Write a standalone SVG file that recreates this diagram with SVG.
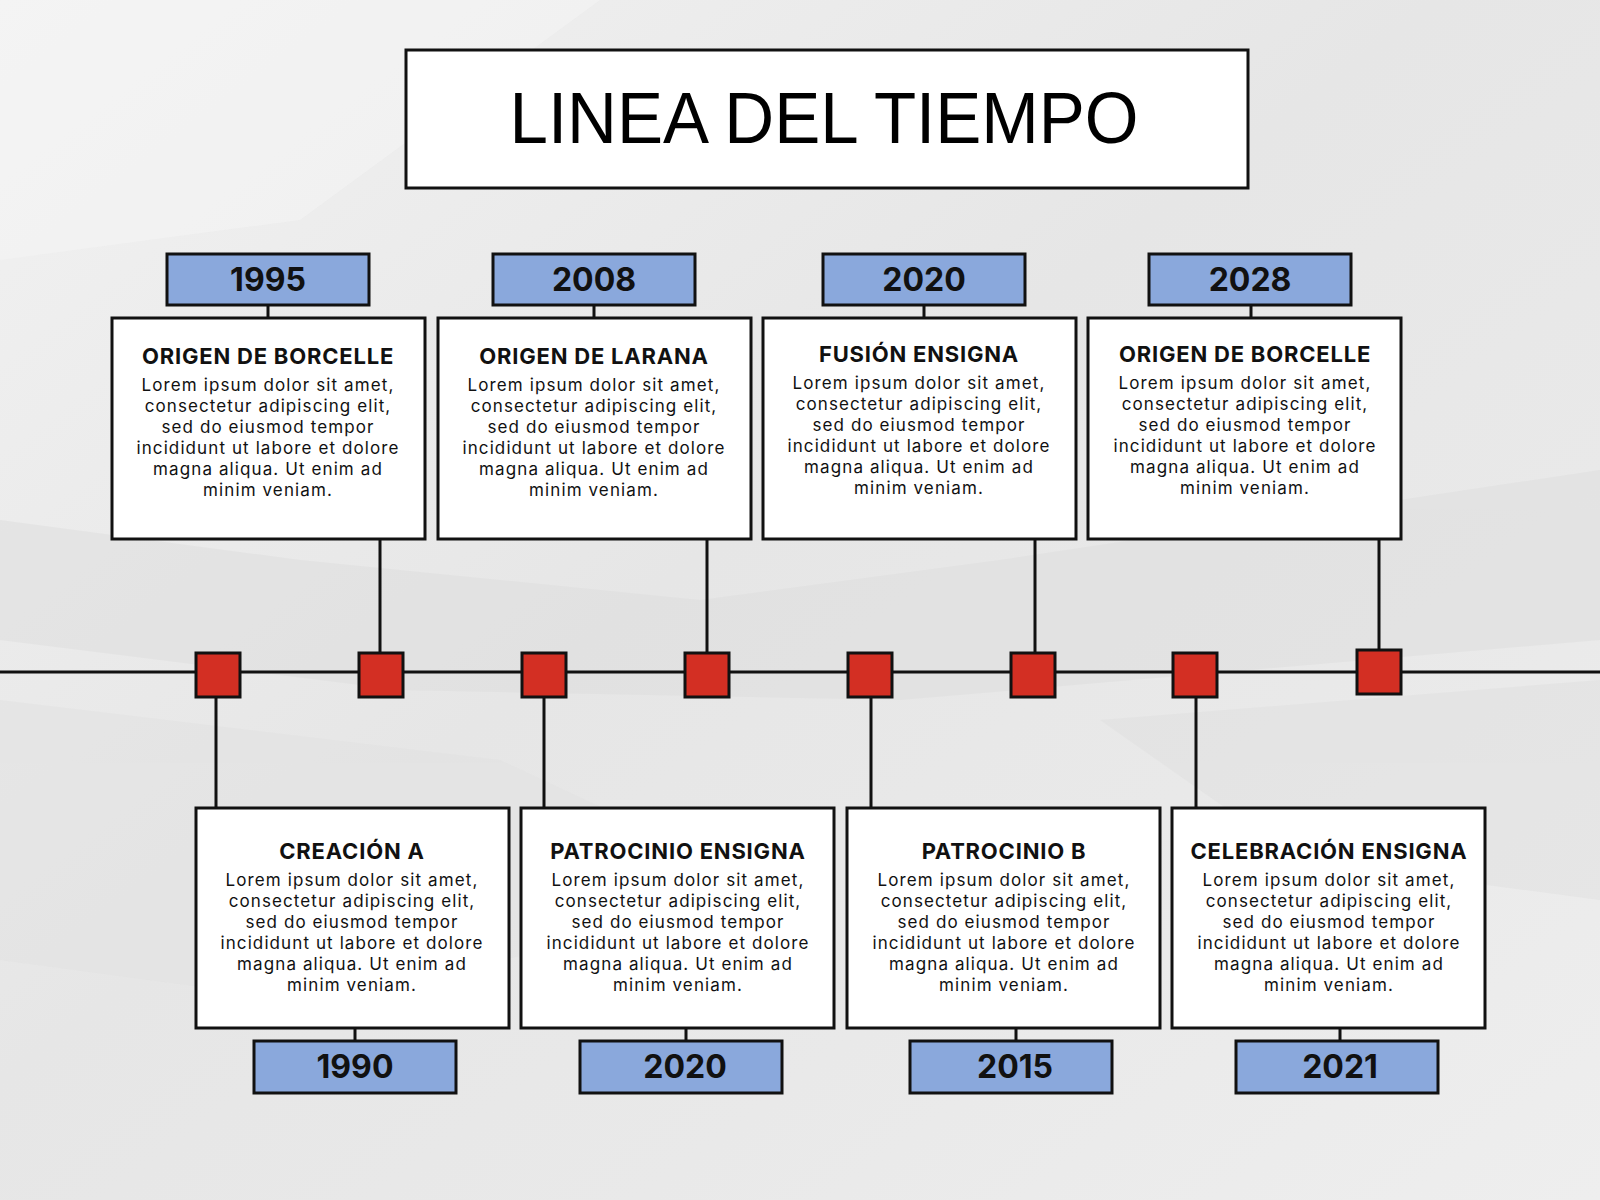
<svg xmlns="http://www.w3.org/2000/svg" width="1600" height="1200" viewBox="0 0 1600 1200">
<defs>
<linearGradient id="bg" x1="0" y1="0" x2="1" y2="1">
<stop offset="0" stop-color="#f2f2f2"/>
<stop offset="0.45" stop-color="#e6e6e6"/>
<stop offset="0.7" stop-color="#e9e9e9"/>
<stop offset="1" stop-color="#eeeeee"/>
</linearGradient>
<style>
.card{fill:#ffffff;stroke:#111111;stroke-width:3}
.year{fill:#8aa8dc;stroke:#111111;stroke-width:3}
.sq{fill:#d32f23;stroke:#111111;stroke-width:3}
.ln{stroke:#111111;stroke-width:3;fill:none}
.yt{font-family:Inter,"Liberation Sans",sans-serif;font-weight:bold;font-size:32px;fill:#111111;text-anchor:middle}
.ct{font-family:Inter,"Liberation Sans",sans-serif;font-weight:bold;font-size:22px;letter-spacing:0.8px;fill:#111111;text-anchor:middle}
.cb{font-family:Inter,"Liberation Sans",sans-serif;font-size:17px;letter-spacing:1.1px;fill:#111111;text-anchor:middle}
</style>
</defs>
<rect x="0" y="0" width="1600" height="1200" fill="url(#bg)"/>
<g opacity="0.5">
<polygon points="0,520 300,560 700,600 1000,560 1600,470 1600,640 900,700 400,690 0,640" fill="#dedede"/>
<polygon points="0,700 500,760 800,900 300,1000 0,960" fill="#e2e2e2"/>
<polygon points="1100,720 1600,680 1600,900 1300,860" fill="#e0e0e0"/>
<polygon points="0,0 600,0 300,220 0,260" fill="#f5f5f5"/>
</g>

<g id="title">
<rect x="406" y="50" width="842" height="138" fill="#ffffff" stroke="#111111" stroke-width="3"/>
<text x="824" y="143" font-family="Liberation Sans, Arial, sans-serif" font-size="72" fill="#000000" text-anchor="middle" textLength="629" lengthAdjust="spacingAndGlyphs">LINEA DEL TIEMPO</text>
</g>

<g id="connectors">
<line class="ln" x1="0" y1="672" x2="1600" y2="672"/>
<line class="ln" x1="268" y1="305" x2="268" y2="318"/>
<line class="ln" x1="594" y1="305" x2="594" y2="318"/>
<line class="ln" x1="924" y1="305" x2="924" y2="318"/>
<line class="ln" x1="1251" y1="305" x2="1251" y2="318"/>
<line class="ln" x1="380" y1="539" x2="380" y2="653"/>
<line class="ln" x1="707" y1="539" x2="707" y2="653"/>
<line class="ln" x1="1035" y1="539" x2="1035" y2="653"/>
<line class="ln" x1="1379" y1="539" x2="1379" y2="650"/>
<line class="ln" x1="216" y1="697" x2="216" y2="808"/>
<line class="ln" x1="544" y1="697" x2="544" y2="808"/>
<line class="ln" x1="871" y1="697" x2="871" y2="808"/>
<line class="ln" x1="1196" y1="697" x2="1196" y2="808"/>
<line class="ln" x1="355" y1="1028" x2="355" y2="1041"/>
<line class="ln" x1="686" y1="1028" x2="686" y2="1041"/>
<line class="ln" x1="1016" y1="1028" x2="1016" y2="1041"/>
<line class="ln" x1="1340" y1="1028" x2="1340" y2="1041"/>
</g>

<g id="markers">
<rect class="sq" x="196" y="653" width="44" height="44"/>
<rect class="sq" x="359" y="653" width="44" height="44"/>
<rect class="sq" x="522" y="653" width="44" height="44"/>
<rect class="sq" x="685" y="653" width="44" height="44"/>
<rect class="sq" x="848" y="653" width="44" height="44"/>
<rect class="sq" x="1011" y="653" width="44" height="44"/>
<rect class="sq" x="1173" y="653" width="44" height="44"/>
<rect class="sq" x="1357" y="650" width="44" height="44"/>
</g>

<g id="event-1995">
<rect class="year" x="167" y="254" width="202" height="51"/>
<text class="yt" x="268" y="291">1995</text>
<rect class="card" x="112" y="318" width="313" height="221"/>
<text class="ct" x="268" y="364">ORIGEN DE BORCELLE</text>
<text class="cb" x="268" y="391">Lorem ipsum dolor sit amet,</text>
<text class="cb" x="268" y="412">consectetur adipiscing elit,</text>
<text class="cb" x="268" y="433">sed do eiusmod tempor</text>
<text class="cb" x="268" y="454">incididunt ut labore et dolore</text>
<text class="cb" x="268" y="475">magna aliqua. Ut enim ad</text>
<text class="cb" x="268" y="496">minim veniam.</text>
</g>

<g id="event-2008">
<rect class="year" x="493" y="254" width="202" height="51"/>
<text class="yt" x="594" y="291">2008</text>
<rect class="card" x="438" y="318" width="313" height="221"/>
<text class="ct" x="594" y="364">ORIGEN DE LARANA</text>
<text class="cb" x="594" y="391">Lorem ipsum dolor sit amet,</text>
<text class="cb" x="594" y="412">consectetur adipiscing elit,</text>
<text class="cb" x="594" y="433">sed do eiusmod tempor</text>
<text class="cb" x="594" y="454">incididunt ut labore et dolore</text>
<text class="cb" x="594" y="475">magna aliqua. Ut enim ad</text>
<text class="cb" x="594" y="496">minim veniam.</text>
</g>

<g id="event-2020-top">
<rect class="year" x="823" y="254" width="202" height="51"/>
<text class="yt" x="924" y="291">2020</text>
<rect class="card" x="763" y="318" width="313" height="221"/>
<text class="ct" x="919" y="362">FUSIÓN ENSIGNA</text>
<text class="cb" x="919" y="389">Lorem ipsum dolor sit amet,</text>
<text class="cb" x="919" y="410">consectetur adipiscing elit,</text>
<text class="cb" x="919" y="431">sed do eiusmod tempor</text>
<text class="cb" x="919" y="452">incididunt ut labore et dolore</text>
<text class="cb" x="919" y="473">magna aliqua. Ut enim ad</text>
<text class="cb" x="919" y="494">minim veniam.</text>
</g>

<g id="event-2028">
<rect class="year" x="1149" y="254" width="202" height="51"/>
<text class="yt" x="1250" y="291">2028</text>
<rect class="card" x="1088" y="318" width="313" height="221"/>
<text class="ct" x="1245" y="362">ORIGEN DE BORCELLE</text>
<text class="cb" x="1245" y="389">Lorem ipsum dolor sit amet,</text>
<text class="cb" x="1245" y="410">consectetur adipiscing elit,</text>
<text class="cb" x="1245" y="431">sed do eiusmod tempor</text>
<text class="cb" x="1245" y="452">incididunt ut labore et dolore</text>
<text class="cb" x="1245" y="473">magna aliqua. Ut enim ad</text>
<text class="cb" x="1245" y="494">minim veniam.</text>
</g>

<g id="event-1990">
<rect class="card" x="196" y="808" width="313" height="220"/>
<text class="ct" x="352" y="859">CREACIÓN A</text>
<text class="cb" x="352" y="886">Lorem ipsum dolor sit amet,</text>
<text class="cb" x="352" y="907">consectetur adipiscing elit,</text>
<text class="cb" x="352" y="928">sed do eiusmod tempor</text>
<text class="cb" x="352" y="949">incididunt ut labore et dolore</text>
<text class="cb" x="352" y="970">magna aliqua. Ut enim ad</text>
<text class="cb" x="352" y="991">minim veniam.</text>
<rect class="year" x="254" y="1041" width="202" height="52"/>
<text class="yt" x="355" y="1078">1990</text>
</g>

<g id="event-2020-bottom">
<rect class="card" x="521" y="808" width="313" height="220"/>
<text class="ct" x="678" y="859">PATROCINIO ENSIGNA</text>
<text class="cb" x="678" y="886">Lorem ipsum dolor sit amet,</text>
<text class="cb" x="678" y="907">consectetur adipiscing elit,</text>
<text class="cb" x="678" y="928">sed do eiusmod tempor</text>
<text class="cb" x="678" y="949">incididunt ut labore et dolore</text>
<text class="cb" x="678" y="970">magna aliqua. Ut enim ad</text>
<text class="cb" x="678" y="991">minim veniam.</text>
<rect class="year" x="580" y="1041" width="202" height="52"/>
<text class="yt" x="685" y="1078">2020</text>
</g>

<g id="event-2015">
<rect class="card" x="847" y="808" width="313" height="220"/>
<text class="ct" x="1004" y="859">PATROCINIO B</text>
<text class="cb" x="1004" y="886">Lorem ipsum dolor sit amet,</text>
<text class="cb" x="1004" y="907">consectetur adipiscing elit,</text>
<text class="cb" x="1004" y="928">sed do eiusmod tempor</text>
<text class="cb" x="1004" y="949">incididunt ut labore et dolore</text>
<text class="cb" x="1004" y="970">magna aliqua. Ut enim ad</text>
<text class="cb" x="1004" y="991">minim veniam.</text>
<rect class="year" x="910" y="1041" width="202" height="52"/>
<text class="yt" x="1015" y="1078">2015</text>
</g>

<g id="event-2021">
<rect class="card" x="1172" y="808" width="313" height="220"/>
<text class="ct" x="1329" y="859">CELEBRACIÓN ENSIGNA</text>
<text class="cb" x="1329" y="886">Lorem ipsum dolor sit amet,</text>
<text class="cb" x="1329" y="907">consectetur adipiscing elit,</text>
<text class="cb" x="1329" y="928">sed do eiusmod tempor</text>
<text class="cb" x="1329" y="949">incididunt ut labore et dolore</text>
<text class="cb" x="1329" y="970">magna aliqua. Ut enim ad</text>
<text class="cb" x="1329" y="991">minim veniam.</text>
<rect class="year" x="1236" y="1041" width="202" height="52"/>
<text class="yt" x="1340" y="1078">2021</text>
</g>
</svg>
